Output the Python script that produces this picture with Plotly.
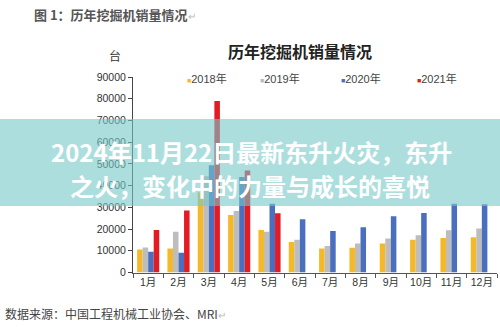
import plotly.graph_objects as go

W, H = 500, 327

months = ["1月", "2月", "3月", "4月", "5月", "6月", "7月", "8月", "9月", "10月", "11月", "12月"]
series_names = ["2018年", "2019年", "2020年", "2021年"]
colors = ["#F5B927", "#BDBDBD", "#4A6FBF", "#E31B23"]
s2018 = [10600, 11100, 37000, 26500, 19600, 14000, 11100, 11400, 13400, 15100, 15900, 16200]
s2019 = [11500, 18800, 44300, 28300, 18800, 15100, 12200, 13400, 15700, 17100, 19400, 20300]
s2020 = [9500, 9100, 49400, 44000, 31700, 24500, 19100, 20800, 25900, 27400, 31600, 31400]
s2021 = [19600, 28500, 79000, 47000, 27300, None, None, None, None, None, None, None]
yticks = [0, 10000, 20000, 30000, 40000, 50000, 60000, 70000, 80000, 90000]

fig = go.Figure()
for name, vals, c in zip(series_names, [s2018, s2019, s2020, s2021], colors):
    fig.add_trace(go.Bar(x=months, y=vals, name=name, marker=dict(color=c, line=dict(width=0))))

def px(x):
    return x / W

def py(y):
    return 1 - y / H

FONT = "Liberation Sans, Noto Sans CJK SC, sans-serif"
CJK = "Noto Sans CJK SC, sans-serif"

fig.update_layout(
    width=W, height=H,
    margin=dict(l=0, r=0, t=0, b=0),
    paper_bgcolor="white", plot_bgcolor="white",
    barmode="group", bargap=0.27, bargroupgap=0,
    showlegend=False,
    font=dict(family=FONT, size=11, color="#333"),
    xaxis=dict(
        domain=[px(133), px(497)], automargin=False,
        showline=True, linecolor="#555", linewidth=1,
        ticks="outside", tickson="boundaries", ticklen=4, tickcolor="#555",
        tickangle=0,
        tickfont=dict(size=10.5, color="#333", family=FONT), showgrid=False,
    ),
    yaxis=dict(
        domain=[py(272.5), py(77)], automargin=False,
        range=[0, 90000], tickvals=yticks, ticktext=[str(v) for v in yticks],
        showline=True, linecolor="#444", linewidth=1,
        ticks="outside", ticklen=4, tickcolor="#444",
        tickfont=dict(size=10.5, color="#333", family=FONT), showgrid=False, zeroline=False,
    ),
)

annotations = []
# document caption
annotations.append(dict(x=px(32), y=py(15), xref="paper", yref="paper", xanchor="left", yanchor="middle",
                        text='<b>图 1：历年挖掘机销量情况</b><span style="color:#bbb;font-size:10px">↵</span>',
                        showarrow=False, font=dict(family=CJK, size=13, color="#555")))
# chart title
annotations.append(dict(x=px(300), y=py(51), xref="paper", yref="paper", xanchor="center", yanchor="middle",
                        text="<b>历年挖掘机销量情况</b>", showarrow=False,
                        font=dict(family=CJK, size=16, color="#222")))
# unit
annotations.append(dict(x=px(115), y=py(55), xref="paper", yref="paper", xanchor="center", yanchor="middle",
                        text="台", showarrow=False, font=dict(family=CJK, size=12, color="#333")))
# legend
leg_x = [185, 258, 339, 415]
for lx, name, c in zip(leg_x, series_names, colors):
    annotations.append(dict(x=px(lx), y=py(78), xref="paper", yref="paper", xanchor="left", yanchor="middle",
                            text=f'<span style="color:{c};font-size:7px">■</span>{name}', showarrow=False,
                            font=dict(family=FONT, size=11, color="#444")))
# source
annotations.append(dict(x=px(3), y=py(313), xref="paper", yref="paper", xanchor="left", yanchor="middle",
                        text='数据来源：中国工程机械工业协会、MRI<span style="color:#bbb;font-size:10px">↵</span>',
                        showarrow=False, font=dict(family=CJK, size=12, color="#444")))
# banner text
annotations.append(dict(x=px(251), y=py(151), xref="paper", yref="paper", xanchor="center", yanchor="middle",
                        text="<b>2024年11月22日最新东升火灾，东升</b>", showarrow=False,
                        font=dict(family=CJK, size=24, color="white")))
annotations.append(dict(x=px(250), y=py(185), xref="paper", yref="paper", xanchor="center", yanchor="middle",
                        text="<b>之火，变化中的力量与成长的喜悦</b>", showarrow=False,
                        font=dict(family=CJK, size=24, color="white")))
fig.update_layout(annotations=annotations)

fig.add_shape(type="rect", xref="paper", yref="paper", x0=0, x1=1, y0=py(206), y1=py(119),
              fillcolor="rgba(118,200,200,0.6)", line=dict(width=0), layer="above")

fig.write_html("out.html")
